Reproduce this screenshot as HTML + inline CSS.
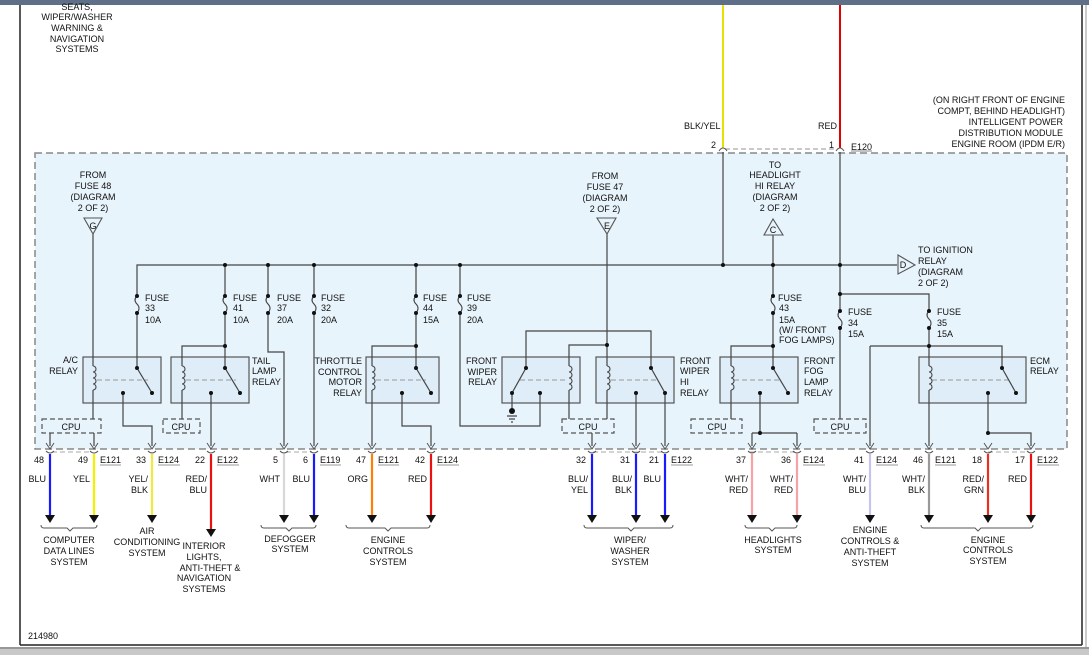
<!DOCTYPE html>
<html><head><meta charset="utf-8"><style>
html,body{margin:0;padding:0;background:#fff;}
svg{display:block;font-family:"Liberation Sans",sans-serif;}
text{font-size:9px;fill:#111;}
</style></head><body>
<svg width="1089" height="655" viewBox="0 0 1089 655" xmlns="http://www.w3.org/2000/svg">
<rect x="0" y="0" width="1089" height="5" fill="#5d7088"/>
<rect x="0" y="647" width="1089" height="8" fill="#c8c8c8"/>
<line x1="0" y1="648" x2="1089" y2="648" fill="none" stroke="#666" stroke-width="1"/>
<line x1="20" y1="5" x2="20" y2="645" stroke="#222" stroke-width="1.5"/>
<line x1="1082" y1="5" x2="1082" y2="645" stroke="#222" stroke-width="1.5"/>
<line x1="20" y1="645" x2="1082" y2="645" stroke="#222" stroke-width="1.5"/>
<line x1="1086" y1="5" x2="1086" y2="647" stroke="#999" stroke-width="1"/>

<g text-anchor="middle">
<text x="77" y="10">SEATS,</text><text x="77" y="20">WIPER/WASHER</text><text x="77" y="31">WARNING &amp;</text><text x="77" y="42">NAVIGATION</text><text x="77" y="52">SYSTEMS</text>
</g>
<g text-anchor="end">
<text x="1065" y="103">(ON RIGHT FRONT OF ENGINE</text><text x="1065" y="114">COMPT, BEHIND HEADLIGHT)</text><text x="1063" y="125">INTELLIGENT POWER</text><text x="1063" y="136">DISTRIBUTION MODULE</text><text x="1065" y="147">ENGINE ROOM (IPDM E/R)</text>
</g>
<line x1="723" y1="5" x2="723" y2="148" stroke="#e8e000" stroke-width="2"/>
<line x1="840" y1="5" x2="840" y2="148" stroke="#e00000" stroke-width="2"/>
<text x="684" y="129">BLK/YEL</text><text x="818" y="129">RED</text>
<text x="711" y="148">2</text><text x="829" y="148">1</text>
<text x="851" y="150">E120</text><line x1="851" y1="151" x2="872" y2="151" stroke="#111" stroke-width="0.6"/>
<line x1="725" y1="149" x2="838" y2="149" stroke="#aaa" stroke-width="1.2" stroke-dasharray="5,3"/>
<path d="M719 151 Q723 145 727 151 M836 151 Q840 145 844 151" fill="none" stroke="#555" stroke-width="1"/>

<rect x="35" y="153" width="1032" height="296" fill="#e8f4fb" stroke="#888" stroke-width="1.5" stroke-dasharray="7,4"/>

<g fill="#deedf7" stroke="#555" stroke-width="1.2">
<rect x="83" y="357" width="78" height="46"/>
<rect x="171" y="357" width="78" height="46"/>
<rect x="366" y="357" width="73" height="46"/>
<rect x="502" y="357" width="78" height="46"/>
<rect x="596" y="357" width="78" height="46"/>
<rect x="720" y="357" width="78" height="46"/>
<rect x="919" y="357" width="107" height="46"/>
</g>
<g fill="#e8f4fb" stroke="#555" stroke-width="1.2" stroke-dasharray="5,3">
<rect x="42" y="419" width="59" height="14"/>
<rect x="163" y="419" width="37" height="14"/>
<rect x="562" y="419" width="52" height="14"/>
<rect x="691" y="419" width="51" height="14"/>
<rect x="814" y="419" width="52" height="14"/>
</g>
<g text-anchor="middle">
<text x="71" y="430">CPU</text><text x="181" y="430">CPU</text><text x="588" y="430">CPU</text><text x="717" y="430">CPU</text><text x="840" y="430">CPU</text>
</g>

<g stroke="#999" stroke-width="1" stroke-dasharray="5,3">
<line x1="97" y1="380" x2="148" y2="380"/><line x1="186" y1="380" x2="236" y2="380"/>
<line x1="376" y1="380" x2="426" y2="380"/><line x1="520" y1="380" x2="566" y2="380"/>
<line x1="611" y1="380" x2="659" y2="380"/><line x1="734" y1="380" x2="782" y2="380"/>
<line x1="932" y1="380" x2="1009" y2="380"/>
</g>

<g fill="none" stroke="#444" stroke-width="1.2">
<path d="M137 296 V265 H897"/>
<line x1="723" y1="152" x2="723" y2="265"/>
<line x1="840" y1="152" x2="840" y2="311"/>
<line x1="773" y1="235" x2="773" y2="296"/>
<path d="M93 234 V366 M93 390 V419"/>
<path d="M137 313 V368 L152 393"/>
<path d="M123 393 V426 H152 V446"/>
<path d="M225 265 V296 M225 313 V368 L240 393 M225 346 H182 V366 M182 390 V419 M211 393 V446"/>
<path d="M268 265 V296 M268 313 V352 H284 V446"/>
<path d="M314 265 V296 M314 313 V446"/>
<path d="M416 265 V296 M416 313 V368 L431 393 M416 346 H372 V366 M372 390 V446 M402 393 V426 H431 V446"/>
<path d="M460 265 V296 M460 313 V426 H540 V393"/>
<path d="M526 368 L512 393 V411 M526 368 V331 H651 V368 L665 393 V446 M607 234 V366 M607 390 V419 M607 345 H569 V366 M569 390 V419 M636 393 V446 M592 433 V446"/>
<path d="M773 313 V368 L788 393 M773 346 H731 V366 M731 390 V419 M760 393 V433 M752 433 H797 M752 433 V446 M797 433 V446"/>
<path d="M840 294 H929 V311 M840 328 V419 M929 328 V366 M929 390 V446 M870 346 H1002 V368 L1016 393 M870 346 V446 M988 393 V433 H1031 V446"/>
<path d="M50 433 V446 M94 433 V446"/>
<path d="M507 416 H517 M509 419 H515 M511 422 H513"/>
</g>

<g fill="none" stroke="#444" stroke-width="1.1">
<path d="M93 366 a3 3 0 0 1 0 6 a3 3 0 0 1 0 6 a3 3 0 0 1 0 6 a3 3 0 0 1 0 6"/>
<path d="M182 366 a3 3 0 0 1 0 6 a3 3 0 0 1 0 6 a3 3 0 0 1 0 6 a3 3 0 0 1 0 6"/>
<path d="M372 366 a3 3 0 0 1 0 6 a3 3 0 0 1 0 6 a3 3 0 0 1 0 6 a3 3 0 0 1 0 6"/>
<path d="M569 366 a3 3 0 0 1 0 6 a3 3 0 0 1 0 6 a3 3 0 0 1 0 6 a3 3 0 0 1 0 6"/>
<path d="M607 366 a3 3 0 0 1 0 6 a3 3 0 0 1 0 6 a3 3 0 0 1 0 6 a3 3 0 0 1 0 6"/>
<path d="M731 366 a3 3 0 0 1 0 6 a3 3 0 0 1 0 6 a3 3 0 0 1 0 6 a3 3 0 0 1 0 6"/>
<path d="M929 366 a3 3 0 0 1 0 6 a3 3 0 0 1 0 6 a3 3 0 0 1 0 6 a3 3 0 0 1 0 6"/>
</g>
<g fill="none" stroke="#444" stroke-width="1.1">
<path d="M137 296 q-4 4 0 8 q4 4 0 9"/><path d="M225 296 q-4 4 0 8 q4 4 0 9"/><path d="M268 296 q-4 4 0 8 q4 4 0 9"/><path d="M314 296 q-4 4 0 8 q4 4 0 9"/><path d="M416 296 q-4 4 0 8 q4 4 0 9"/><path d="M460 296 q-4 4 0 8 q4 4 0 9"/><path d="M773 296 q-4 4 0 8 q4 4 0 9"/>
<path d="M840 311 q-4 4 0 8 q4 4 0 9"/><path d="M929 311 q-4 4 0 8 q4 4 0 9"/>
</g>
<g fill="#111">
<circle cx="137" cy="296" r="2"/><circle cx="137" cy="313" r="2"/><circle cx="225" cy="296" r="2"/><circle cx="225" cy="313" r="2"/><circle cx="268" cy="296" r="2"/><circle cx="268" cy="313" r="2"/><circle cx="314" cy="296" r="2"/><circle cx="314" cy="313" r="2"/><circle cx="416" cy="296" r="2"/><circle cx="416" cy="313" r="2"/><circle cx="460" cy="296" r="2"/><circle cx="460" cy="313" r="2"/><circle cx="773" cy="296" r="2"/><circle cx="773" cy="313" r="2"/><circle cx="840" cy="311" r="2"/><circle cx="840" cy="328" r="2"/><circle cx="929" cy="311" r="2"/><circle cx="929" cy="328" r="2"/>
<circle cx="225" cy="265" r="2"/><circle cx="268" cy="265" r="2"/><circle cx="314" cy="265" r="2"/><circle cx="416" cy="265" r="2"/><circle cx="460" cy="265" r="2"/><circle cx="723" cy="265" r="2"/><circle cx="773" cy="265" r="2"/><circle cx="840" cy="265" r="2"/>
<circle cx="225" cy="346" r="2"/><circle cx="416" cy="346" r="2"/><circle cx="607" cy="345" r="2"/><circle cx="773" cy="346" r="2"/><circle cx="929" cy="346" r="2"/><circle cx="840" cy="294" r="2"/><circle cx="760" cy="433" r="2"/><circle cx="988" cy="433" r="2"/>
<circle cx="137" cy="368" r="2"/><circle cx="152" cy="393" r="2"/><circle cx="123" cy="393" r="2"/>
<circle cx="225" cy="368" r="2"/><circle cx="240" cy="393" r="2"/><circle cx="211" cy="393" r="2"/>
<circle cx="416" cy="368" r="2"/><circle cx="431" cy="393" r="2"/><circle cx="402" cy="393" r="2"/>
<circle cx="526" cy="368" r="2"/><circle cx="512" cy="393" r="2"/><circle cx="540" cy="393" r="2"/><circle cx="512" cy="411" r="3"/>
<circle cx="651" cy="368" r="2"/><circle cx="665" cy="393" r="2"/><circle cx="636" cy="393" r="2"/>
<circle cx="773" cy="368" r="2"/><circle cx="788" cy="393" r="2"/><circle cx="760" cy="393" r="2"/>
<circle cx="1002" cy="368" r="2"/><circle cx="1016" cy="393" r="2"/><circle cx="988" cy="393" r="2"/>
</g>

<g fill="#e8f4fb" stroke="#555" stroke-width="1.1">
<polygon points="84,218 102,218 93,234"/>
<polygon points="597,218 616,218 607,234"/>
<polygon points="773,219 764,235 783,235"/>
<polygon points="898,255 915,265 898,274"/>
</g>
<g text-anchor="middle" font-size="9">
<text x="93" y="229">G</text><text x="607" y="229">E</text><text x="773" y="233">C</text><text x="903" y="268">D</text>
<text x="93" y="178">FROM</text><text x="93" y="189">FUSE 48</text><text x="93" y="200">(DIAGRAM</text><text x="93" y="211">2 OF 2)</text>
<text x="605" y="179">FROM</text><text x="605" y="190">FUSE 47</text><text x="605" y="201">(DIAGRAM</text><text x="605" y="212">2 OF 2)</text>
<text x="775" y="168">TO</text><text x="775" y="178">HEADLIGHT</text><text x="775" y="189">HI RELAY</text><text x="775" y="200">(DIAGRAM</text><text x="775" y="211">2 OF 2)</text>
</g>
<text x="918" y="253">TO IGNITION</text><text x="918" y="264">RELAY</text><text x="918" y="275">(DIAGRAM</text><text x="918" y="286">2 OF 2)</text>

<g>
<text x="145" y="301">FUSE</text><text x="145" y="311">33</text><text x="145" y="323">10A</text>
<text x="233" y="301">FUSE</text><text x="233" y="311">41</text><text x="233" y="323">10A</text>
<text x="277" y="301">FUSE</text><text x="277" y="311">37</text><text x="277" y="323">20A</text>
<text x="321" y="301">FUSE</text><text x="321" y="311">32</text><text x="321" y="323">20A</text>
<text x="423" y="301">FUSE</text><text x="423" y="311">44</text><text x="423" y="323">15A</text>
<text x="467" y="301">FUSE</text><text x="467" y="311">39</text><text x="467" y="323">20A</text>
<text x="778" y="301">FUSE</text><text x="779" y="311">43</text><text x="779" y="323">15A</text><text x="779" y="333">(W/ FRONT</text><text x="779" y="343">FOG LAMPS)</text>
<text x="848" y="315">FUSE</text><text x="848" y="326">34</text><text x="848" y="337">15A</text>
<text x="937" y="315">FUSE</text><text x="937" y="326">35</text><text x="937" y="337">15A</text>
</g>
<g text-anchor="end">
<text x="78" y="363">A/C</text><text x="78" y="374">RELAY</text>
<text x="362" y="364">THROTTLE</text><text x="362" y="375">CONTROL</text><text x="362" y="385">MOTOR</text><text x="362" y="396">RELAY</text>
<text x="497" y="364">FRONT</text><text x="497" y="375">WIPER</text><text x="497" y="385">RELAY</text>
</g>
<text x="252" y="364">TAIL</text><text x="252" y="374">LAMP</text><text x="252" y="385">RELAY</text>
<text x="680" y="364">FRONT</text><text x="680" y="374">WIPER</text><text x="680" y="385">HI</text><text x="680" y="396">RELAY</text>
<text x="804" y="364">FRONT</text><text x="804" y="374">FOG</text><text x="804" y="385">LAMP</text><text x="804" y="396">RELAY</text>
<text x="1030" y="364">ECM</text><text x="1030" y="374">RELAY</text>

<g stroke="#bbb" stroke-width="1.2" stroke-dasharray="5,3" fill="none">
<line x1="52" y1="452" x2="92" y2="452"/><line x1="286" y1="452" x2="312" y2="452"/>
<line x1="593" y1="452" x2="663" y2="452"/><line x1="750" y1="452" x2="795" y2="452"/><line x1="988" y1="452" x2="1029" y2="452"/>
</g>
<g fill="none" stroke="#555" stroke-width="1">
<path d="M46 443 L50 449 L54 443 M90 443 L94 449 L98 443 M148 443 L152 449 L156 443 M207 443 L211 449 L215 443 M280 443 L284 449 L288 443 M310 443 L314 449 L318 443 M368 443 L372 449 L376 443 M427 443 L431 449 L435 443 M588 443 L592 449 L596 443 M632 443 L636 449 L640 443 M661 443 L665 449 L669 443 M748 443 L752 449 L756 443 M793 443 L797 449 L801 443 M866 443 L870 449 L874 443 M925 443 L929 449 L933 443 M984 443 L988 449 L992 443 M1027 443 L1031 449 L1035 443"/>
<path d="M46 451 Q50 455 54 451 M90 451 Q94 455 98 451 M148 451 Q152 455 156 451 M207 451 Q211 455 215 451 M280 451 Q284 455 288 451 M310 451 Q314 455 318 451 M368 451 Q372 455 376 451 M427 451 Q431 455 435 451 M588 451 Q592 455 596 451 M632 451 Q636 455 640 451 M661 451 Q665 455 669 451 M748 451 Q752 455 756 451 M793 451 Q797 455 801 451 M866 451 Q870 455 874 451 M925 451 Q929 455 933 451 M984 451 Q988 455 992 451 M1027 451 Q1031 455 1035 451"/>
</g>

<g stroke-width="2.2">
<line x1="50" y1="454" x2="50" y2="515" stroke="#1a1aff"/>
<line x1="94" y1="454" x2="94" y2="515" stroke="#f5f000"/>
<line x1="152" y1="454" x2="152" y2="515" stroke="#f0ea40"/>
<line x1="211" y1="454" x2="211" y2="530" stroke="#e81010"/>
<line x1="284" y1="454" x2="284" y2="515" stroke="#d8d8d8"/>
<line x1="314" y1="454" x2="314" y2="515" stroke="#1a1aff"/>
<line x1="372" y1="454" x2="372" y2="515" stroke="#ff8000"/>
<line x1="431" y1="454" x2="431" y2="515" stroke="#e81010"/>
<line x1="592" y1="454" x2="592" y2="515" stroke="#1a1aff"/>
<line x1="636" y1="454" x2="636" y2="515" stroke="#1a1aff"/>
<line x1="665" y1="454" x2="665" y2="515" stroke="#1a1aff"/>
<line x1="752" y1="454" x2="752" y2="515" stroke="#f4a4a4"/>
<line x1="797" y1="454" x2="797" y2="515" stroke="#f4a4a4"/>
<line x1="870" y1="454" x2="870" y2="515" stroke="#c4c4f0"/>
<line x1="929" y1="454" x2="929" y2="515" stroke="#999"/>
<line x1="988" y1="454" x2="988" y2="515" stroke="#e83020"/>
<line x1="1031" y1="454" x2="1031" y2="515" stroke="#e81010"/>
</g>
<g fill="#111">
<polygon points="45,515 55,515 50,523"/><polygon points="89,515 99,515 94,523"/><polygon points="147,515 157,515 152,523"/><polygon points="206,529 216,529 211,537"/><polygon points="279,515 289,515 284,523"/><polygon points="309,515 319,515 314,523"/><polygon points="367,515 377,515 372,523"/><polygon points="426,515 436,515 431,523"/><polygon points="587,515 597,515 592,523"/><polygon points="631,515 641,515 636,523"/><polygon points="660,515 670,515 665,523"/><polygon points="747,515 757,515 752,523"/><polygon points="792,515 802,515 797,523"/><polygon points="865,515 875,515 870,523"/><polygon points="924,515 934,515 929,523"/><polygon points="983,515 993,515 988,523"/><polygon points="1026,515 1036,515 1031,523"/>
</g>
<g fill="none" stroke="#555" stroke-width="1">
<path d="M41 525 q0 3 3 3 H67 l3 3 l3 -3 H94 q3 0 3 -3"/>
<path d="M261 525 q0 3 3 3 H286 l3 3 l3 -3 H313 q3 0 3 -3"/>
<path d="M346 525 q0 3 3 3 H385 l3 3 l3 -3 H427 q3 0 3 -3"/>
<path d="M584 525 q0 3 3 3 H628 l3 3 l3 -3 H670 q3 0 3 -3"/>
<path d="M745 525 q0 3 3 3 H769 l3 3 l3 -3 H794 q3 0 3 -3"/>
<path d="M921 525 q0 3 3 3 H975 l3 3 l3 -3 H1030 q3 0 3 -3"/>
</g>
<g text-anchor="end">
<text x="44" y="463">48</text><text x="88" y="463">49</text><text x="146" y="463">33</text><text x="205" y="463">22</text><text x="278" y="463">5</text><text x="308" y="463">6</text><text x="366" y="463">47</text><text x="425" y="463">42</text>
<text x="586" y="463">32</text><text x="630" y="463">31</text><text x="659" y="463">21</text><text x="746" y="463">37</text><text x="791" y="463">36</text><text x="864" y="463">41</text><text x="923" y="463">46</text><text x="982" y="463">18</text><text x="1025" y="463">17</text>
<text x="46" y="482">BLU</text><text x="90" y="482">YEL</text><text x="148" y="482">YEL/</text><text x="148" y="493">BLK</text><text x="207" y="482">RED/</text><text x="207" y="493">BLU</text><text x="280" y="482">WHT</text><text x="310" y="482">BLU</text><text x="368" y="482">ORG</text><text x="427" y="482">RED</text>
<text x="588" y="482">BLU/</text><text x="588" y="493">YEL</text><text x="632" y="482">BLU/</text><text x="632" y="493">BLK</text><text x="661" y="482">BLU</text><text x="748" y="482">WHT/</text><text x="748" y="493">RED</text><text x="793" y="482">WHT/</text><text x="793" y="493">RED</text><text x="866" y="482">WHT/</text><text x="866" y="493">BLU</text><text x="925" y="482">WHT/</text><text x="925" y="493">BLK</text><text x="984" y="482">RED/</text><text x="984" y="493">GRN</text><text x="1027" y="482">RED</text>
</g>
<g>
<text x="100" y="463">E121</text><text x="158" y="463">E124</text><text x="217" y="463">E122</text><text x="320" y="463">E119</text><text x="378" y="463">E121</text><text x="437" y="463">E124</text><text x="671" y="463">E122</text><text x="803" y="463">E124</text><text x="876" y="463">E124</text><text x="935" y="463">E121</text><text x="1037" y="463">E122</text>
</g>
<g stroke="#333" stroke-width="0.6">
<line x1="100" y1="465" x2="121" y2="465"/><line x1="158" y1="465" x2="180" y2="465"/><line x1="217" y1="465" x2="239" y2="465"/><line x1="320" y1="465" x2="341" y2="465"/><line x1="378" y1="465" x2="399" y2="465"/><line x1="437" y1="465" x2="459" y2="465"/><line x1="671" y1="465" x2="693" y2="465"/><line x1="803" y1="465" x2="825" y2="465"/><line x1="876" y1="465" x2="898" y2="465"/><line x1="935" y1="465" x2="956" y2="465"/><line x1="1037" y1="465" x2="1059" y2="465"/>
</g>
<g text-anchor="middle">
<text x="69" y="543">COMPUTER</text><text x="69" y="554">DATA LINES</text><text x="69" y="565">SYSTEM</text>
<text x="147" y="534">AIR</text><text x="147" y="545">CONDITIONING</text><text x="147" y="556">SYSTEM</text>
<text x="204" y="549">INTERIOR</text><text x="204" y="560">LIGHTS,</text><text x="210" y="571">ANTI-THEFT &amp;</text><text x="204" y="581">NAVIGATION</text><text x="204" y="592">SYSTEMS</text>
<text x="290" y="542">DEFOGGER</text><text x="290" y="552">SYSTEM</text>
<text x="388" y="543">ENGINE</text><text x="388" y="554">CONTROLS</text><text x="388" y="565">SYSTEM</text>
<text x="630" y="543">WIPER/</text><text x="630" y="554">WASHER</text><text x="630" y="565">SYSTEM</text>
<text x="773" y="543">HEADLIGHTS</text><text x="773" y="553">SYSTEM</text>
<text x="870" y="533">ENGINE</text><text x="870" y="544">CONTROLS &amp;</text><text x="870" y="555">ANTI-THEFT</text><text x="870" y="566">SYSTEM</text>
<text x="988" y="543">ENGINE</text><text x="988" y="553">CONTROLS</text><text x="988" y="564">SYSTEM</text>
</g>
<text x="28" y="639">214980</text>
</svg>
</body></html>
